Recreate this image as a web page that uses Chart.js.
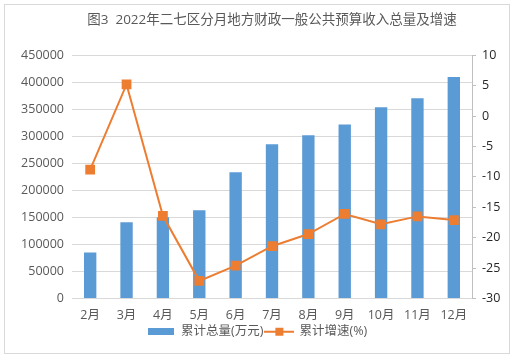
<!DOCTYPE html>
<html><head><meta charset="utf-8">
<script src="https://cdn.jsdelivr.net/npm/chart.js@4/dist/chart.umd.min.js"></script>
<style>
html,body{margin:0;padding:0;background:#fff;}
#wrap{position:absolute;left:0;top:0;width:514px;height:358px;}
#frame{position:absolute;left:4px;top:4px;width:504px;height:348px;border:1px solid #d9d9d9;pointer-events:none;}
</style></head>
<body>
<div id="wrap"><canvas id="c" width="514" height="358"></canvas><div id="frame"></div></div>
<script>
const categories = ['2月','3月','4月','5月','6月','7月','8月','9月','10月','11月','12月'];
const totals = [85000,141000,150500,163000,233500,285500,302000,322000,353500,370500,409500];
const growth = [-8.8,5.2,-16.4,-27.1,-24.6,-21.4,-19.4,-16.1,-17.8,-16.5,-17.1];
const leftTicks = [0,50000,100000,150000,200000,250000,300000,350000,400000,450000];
const rightTicks = [-30,-25,-20,-15,-10,-5,0,5,10];
const titleText = '图3  2022年二七区分月地方财政一般公共预算收入总量及增速';
const seriesNames = ['累计总量(万元)','累计增速(%)'];

const BLUE = '#5B9BD5', ORANGE = '#ED7D31';
const FONT = '"Open Sans","Noto Sans CJK SC",sans-serif';

function barIcon(){const c=document.createElement('canvas');c.width=26;c.height=7;const x=c.getContext('2d');x.fillStyle=BLUE;x.fillRect(0,0,26,7);return c;}
function lineIcon(){const c=document.createElement('canvas');c.width=30;c.height=10;const x=c.getContext('2d');x.strokeStyle=ORANGE;x.lineWidth=2;x.beginPath();x.moveTo(0,5);x.lineTo(30,5);x.stroke();x.fillStyle=ORANGE;x.fillRect(11,1,8,8);return c;}
const icons=[barIcon(),lineIcon()];

new Chart(document.getElementById('c'),{
  data:{
    labels:categories,
    datasets:[
      {type:'line',label:seriesNames[1],data:growth,yAxisID:'y1',borderColor:ORANGE,backgroundColor:ORANGE,borderWidth:2,pointStyle:'rect',pointRadius:5.5,pointHoverRadius:5.5,tension:0,order:0},
      {type:'bar',label:seriesNames[0],data:totals,yAxisID:'y',backgroundColor:BLUE,barPercentage:0.34,categoryPercentage:1,order:1}
    ]
  },
  options:{
    responsive:false,animation:false,
    layout:{padding:{top:4,left:0,right:0,bottom:10}},
    plugins:{
      tooltip:{enabled:false},
      title:{display:true,fullSize:false,text:titleText,color:'#595959',font:{family:FONT,size:13.5,weight:'normal'},padding:{top:8,bottom:27}},
      legend:{position:'bottom',labels:{
        color:'#595959',font:{family:FONT,size:12.5},usePointStyle:true,pointStyleWidth:28,boxHeight:10,padding:2,
        generateLabels:(chart)=>[
          {text:seriesNames[0],pointStyle:icons[0],fillStyle:BLUE,strokeStyle:BLUE,lineWidth:0,datasetIndex:1,fontColor:'#595959'},
          {text:seriesNames[1],pointStyle:icons[1],fillStyle:ORANGE,strokeStyle:ORANGE,lineWidth:0,datasetIndex:0,fontColor:'#595959'}
        ]
      }}
    },
    scales:{
      x:{
        grid:{display:false,drawTicks:false},
        border:{display:true,color:'#d9d9d9',width:1},
        afterFit:(s)=>{s.height=25;},
        ticks:{color:'#595959',font:{family:FONT,size:12.5},padding:9,maxRotation:0,autoSkip:false}
      },
      y:{
        position:'left',min:0,max:450000,
        afterBuildTicks:(s)=>{s.ticks=leftTicks.map(v=>({value:v}));},
        afterFit:(s)=>{s.width=72;},
        grid:{color:'#d9d9d9',drawTicks:false},
        border:{display:false},
        ticks:{color:'#595959',font:{family:FONT,size:12.5},padding:8,callback:(v)=>String(v)}
      },
      y1:{
        position:'right',min:-30,max:10,
        afterBuildTicks:(s)=>{s.ticks=rightTicks.map(v=>({value:v}));},
        afterFit:(s)=>{s.width=42;},
        grid:{drawOnChartArea:false,color:'#bfbfbf',tickLength:4},
        border:{display:true,color:'#bfbfbf'},
        ticks:{color:'#262626',font:{family:FONT,size:12.5},padding:6,callback:(v)=>String(v)}
      }
    }
  }
});
</script>
</body></html>
